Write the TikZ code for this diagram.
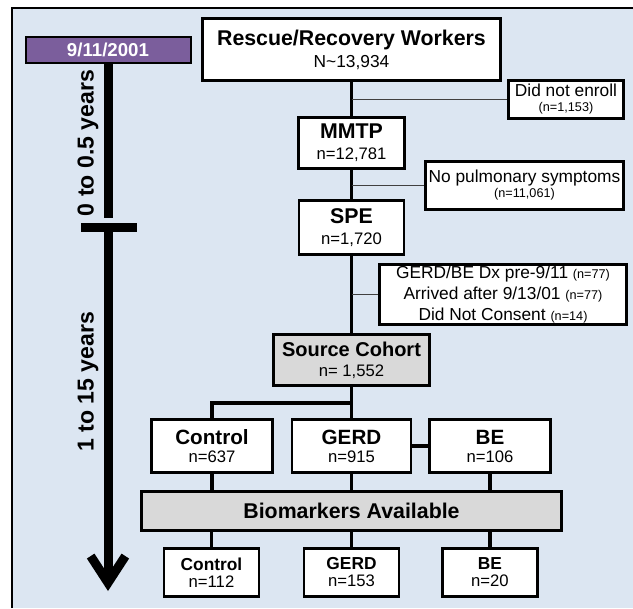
\documentclass[tikz,border=0pt]{standalone}
\usepackage{fontspec}
\setmainfont{Liberation Sans}
\usetikzlibrary{arrows.meta}

\definecolor{panelblue}{HTML}{DCE6F2}
\definecolor{datepurple}{HTML}{7B5E9C}
\definecolor{boxgray}{HTML}{D9D9D9}
\definecolor{linegray}{HTML}{404040}

\newcommand{\hd}[2][16]{{\fontsize{#1}{#1}\selectfont\bfseries #2}}
\newcommand{\ct}[2][13]{{\fontsize{#1}{#1}\selectfont #2}}
\newcommand{\sm}[1]{{\fontsize{9.5}{9.5}\selectfont #1}}

\tikzset{
  box/.style={draw, line width=2.2pt, fill=white, align=center, inner sep=0pt},
  graybox/.style={box, fill=boxgray},
  side/.style={draw, line width=2pt, fill=white, align=center, inner sep=0pt},
  trunk/.style={line width=2.6pt},
  branch/.style={line width=1pt, draw=linegray},
  timeline/.style={line width=6.75pt},
}

\begin{document}
\begin{tikzpicture}[x=0.75pt, y=-0.75pt]
\useasboundingbox (0,0) rectangle (633,608);
% panel
\fill[panelblue] (12,8) rectangle (633,608);
\draw[line width=1.5pt] (12,608) -- (12,8) -- (633,8);
% timeline
\node[draw, line width=1.5pt, fill=datepurple, text=white, minimum width=123.75pt, minimum height=19.5pt, inner sep=0pt,
  font=\bfseries\fontsize{14}{14}\selectfont] (date) at (108,49.5) {9/11/2001};
\draw[timeline] (date.south) -- (108,218);
\draw[timeline] (81,227.5) -- (137,227.5);
\draw[timeline, -{Straight Barb[length=20pt, width=26pt, line join=miter]}] (108,231) -- (108,591);
\node[rotate=90, font=\bfseries\fontsize{17.3}{17.3}\selectfont] (early) at (88,143) {0 to 0.5 years};
\node[rotate=90, font=\bfseries\fontsize{17.3}{17.3}\selectfont] (late) at (88,382) {1 to 15 years};
% enrolment chain
\node[box, minimum width=223.5pt, minimum height=46.5pt, font=\fontsize{13}{16.5}\selectfont] (rescue) at (351.5,49.5)
  {\hd{Rescue/Recovery Workers}\\\ct{N\textasciitilde13,934}};
\node[box, minimum width=79.5pt, minimum height=38.25pt, font=\fontsize{13}{15.75}\selectfont] (mmtp) at (351.5,143)
  {\hd{MMTP}\\\ct[12.5]{n=12,781}};
\node[box, minimum width=78.75pt, minimum height=40.5pt, font=\fontsize{13}{15.75}\selectfont] (spe) at (351.5,227.5)
  {\hd{SPE}\\\ct[12.5]{n=1,720}};
\node[graybox, minimum width=117pt, minimum height=38.25pt, font=\fontsize{13}{15}\selectfont] (source) at (351.5,360)
  {\hd[15]{Source Cohort}\\\ct[12.5]{n= 1,552}};
% exclusions
\node[side, minimum width=86.25pt, minimum height=28.5pt, font=\fontsize{13}{11.25}\selectfont] (noenroll) at (566,99.5)
  {Did not enroll\\\sm{(n=1,153)}};
\node[side, minimum width=148.5pt, minimum height=36pt, font=\fontsize{13}{11.25}\selectfont] (nopulm) at (524.5,185.5)
  {No pulmonary symptoms\\\sm{(n=11,061)}};
\node[side, minimum width=185.25pt, minimum height=45pt, font=\fontsize{13}{16}\selectfont] (excl) at (503,294.5)
  {GERD/BE Dx pre-9/11 \sm{(n=77)}\\Arrived after 9/13/01 \sm{(n=77)}\\Did Not Consent \sm{(n=14)}};
% groups
\node[box, minimum width=90.75pt, minimum height=39.75pt, font=\fontsize{13}{13.5}\selectfont] (control) at (212,446)
  {\hd[15.5]{Control}\\\ct[12.5]{n=637}};
\node[box, minimum width=89.25pt, minimum height=39.75pt, font=\fontsize{13}{13.5}\selectfont] (gerd) at (351.5,446)
  {\hd[15.5]{GERD}\\\ct[12.5]{n=915}};
\node[box, minimum width=90.75pt, minimum height=39.75pt, font=\fontsize{13}{13.5}\selectfont] (be) at (490,446)
  {\hd[15.5]{BE}\\\ct[12.5]{n=106}};
\node[graybox, minimum width=315pt, minimum height=29.25pt] (biomark) at (351.5,511)
  {\hd{Biomarkers Available}};
\node[box, minimum width=71.25pt, minimum height=36pt, font=\fontsize{13}{12.75}\selectfont] (bcontrol) at (211.5,572.5)
  {\hd[13]{Control}\\\ct[12.5]{n=112}};
\node[box, minimum width=71.25pt, minimum height=36pt, font=\fontsize{13}{12.75}\selectfont] (bgerd) at (351.5,572.5)
  {\hd[13]{GERD}\\\ct[12.5]{n=153}};
\node[box, minimum width=71.25pt, minimum height=36pt, font=\fontsize{13}{12.75}\selectfont] (bbe) at (490,572.5)
  {\hd[13]{BE}\\\ct[12.5]{n=20}};
\coordinate (split) at (351.5,403);
% connectors
\draw[trunk] (rescue) -- (mmtp);
\draw[trunk] (mmtp) -- (spe);
\draw[trunk] (spe) -- (source);
\draw[trunk] (source) -- (gerd);
\draw[trunk] (control.north) |- (split);
\draw[trunk] (gerd.east) -- (be.west);
\foreach \g/\b in {control/bcontrol, gerd/bgerd, be/bbe} {
  \draw[trunk] (\g.south) -- (\g.south |- biomark.north);
  \draw[trunk] (\b.north |- biomark.south) -- (\b.north);
}
\draw[branch] (noenroll.west) -- (noenroll.west -| rescue.south);
\draw[branch] (nopulm.west) -- (nopulm.west -| rescue.south);
\draw[branch] (excl.west) -- (excl.west -| rescue.south);
\end{tikzpicture}
\end{document}
